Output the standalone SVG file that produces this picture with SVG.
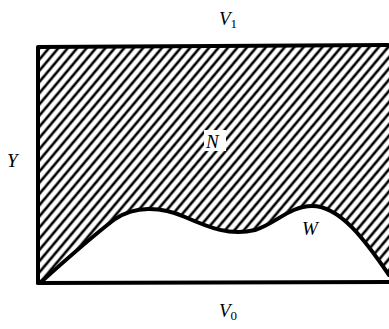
<svg xmlns="http://www.w3.org/2000/svg" width="389" height="329" viewBox="0 0 389 329">
<style>
.lbl{font-family:"Liberation Serif","Times New Roman",serif;font-style:italic;font-size:19px;fill:#000}
.sub{font-style:normal;font-size:13px}
.edge{fill:none;stroke:#000;stroke-width:4;stroke-linecap:round;stroke-linejoin:round}
</style>
<defs>
<pattern id="hatch" patternUnits="userSpaceOnUse" width="7.2" height="20" patternTransform="rotate(40)">
<line x1="3.6" y1="0" x2="3.6" y2="20" stroke="#000" stroke-width="2.6"/>
</pattern>
</defs>
<g id="region-N">
<path d="M38,47 L388,45 L390,45 L390,275 L389,275 C365,240 340,206 312,206 C290,206 275,224 255,230 C230,236 210,228 185,217 C160,206 135,206 115,219 C90,238 60,265 40,283 Z" fill="url(#hatch)"/>
<rect x="204" y="130" width="22" height="21" fill="#fff"/>
</g>
<g id="connectors">
<path class="edge" d="M38,283 L38,47 L388,45"/>
<path class="edge" d="M38,283 L389,282"/>
<path class="edge" d="M40,283 C60,265 90,238 115,219 C135,206 160,206 185,217 C210,228 230,236 255,230 C275,224 290,206 312,206 C340,206 365,240 389,275"/>
</g>
<g id="labels">
<text class="lbl" x="219" y="25">V<tspan class="sub" dy="3">1</tspan></text>
<text class="lbl" x="7" y="167">Y</text>
<text class="lbl" x="206" y="148">N</text>
<text class="lbl" x="302" y="235">W</text>
<text class="lbl" x="219" y="317">V<tspan class="sub" dy="3">0</tspan></text>
</g>
</svg>
